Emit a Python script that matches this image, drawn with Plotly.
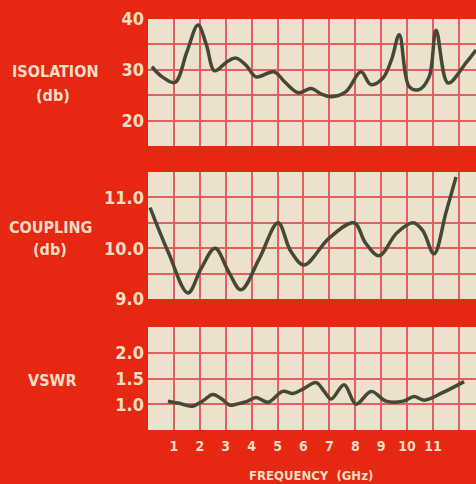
import plotly.graph_objects as go

# ---- data ----
iso_f = [0.15, 0.55, 1.04, 1.5, 1.93, 2.25, 2.57, 3.05, 3.4, 3.8, 4.17, 4.86, 5.3, 5.8, 6.3, 6.7, 7.07, 7.64, 8.22, 8.6, 9.07, 9.4, 9.7, 10.08, 10.46, 10.85, 11.12, 11.58, 12.28, 12.66]
iso_v = [30.6, 28.6, 27.5, 33.5, 38.8, 35.0, 29.8, 31.6, 32.3, 30.8, 28.6, 29.6, 27.5, 25.5, 26.3, 25.2, 24.7, 25.7, 29.6, 27.1, 28.4, 32.0, 36.9, 26.7, 26.1, 28.6, 37.8, 27.4, 31.4, 33.9]

cpl_f = [0.08, 0.8, 1.54, 2.05, 2.59, 3.1, 3.59, 4.3, 5.02, 5.5, 6.02, 6.99, 7.95, 8.4, 8.92, 9.6, 10.23, 10.6, 11.04, 11.5, 11.89]
cpl_v = [10.8, 9.9, 9.12, 9.6, 10.0, 9.55, 9.18, 9.8, 10.5, 9.95, 9.67, 10.2, 10.5, 10.1, 9.85, 10.3, 10.5, 10.35, 9.89, 10.7, 11.4]

vswr_f = [0.77, 1.2, 1.7, 2.1, 2.5, 2.85, 3.17, 3.4, 3.8, 4.17, 4.63, 5.2, 5.6, 6.0, 6.49, 6.8, 7.07, 7.57, 8.03, 8.61, 9.19, 9.85, 10.27, 10.66, 11.39, 12.2]
vswr_v = [1.06, 1.02, 0.96, 1.06, 1.19, 1.1, 0.98, 1.0, 1.05, 1.13, 1.04, 1.25, 1.21, 1.3, 1.42, 1.25, 1.1, 1.38, 1.0, 1.25, 1.06, 1.06, 1.15, 1.08, 1.23, 1.44]

x_tickvals = list(range(0, 13))
x_ticktext = [""] + [str(i) for i in range(1, 12)] + [""]

iso_tickvals = [15, 20, 25, 30, 35, 40]
iso_ticktext = ["", "20", "", "30", "", "40"]
cpl_tickvals = [9.0, 9.5, 10.0, 10.5, 11.0, 11.5]
cpl_ticktext = ["9.0", "", "10.0", "", "11.0", ""]
vswr_tickvals = [0.5, 1.0, 1.5, 2.0, 2.5]
vswr_ticktext = ["", "1.0", "1.5", "2.0", ""]

# ---- style ----
BG = "rgb(230,40,18)"
PANEL = "rgb(236,225,205)"
GRID = "rgb(226,96,96)"
TXT = "rgb(246,222,196)"
LINE = "rgb(68,72,54)"
FONT = "DejaVu Sans Condensed, Liberation Sans Narrow, Arial Narrow, sans-serif"

fig = go.Figure()
for i, (f, v) in enumerate([(iso_f, iso_v), (cpl_f, cpl_v), (vswr_f, vswr_v)]):
    sfx = "" if i == 0 else str(i + 1)
    fig.add_trace(go.Scatter(x=f, y=v, mode="lines", line=dict(color=LINE, width=3.5, shape="spline", smoothing=1.0),
                             xaxis="x" + sfx, yaxis="y" + sfx, showlegend=False, hoverinfo="skip"))

W, H = 476, 484
def dom(top, bot):
    return [1 - bot / H, 1 - top / H]

xcommon = dict(range=[0, 12.66], tickvals=x_tickvals, showgrid=True, gridcolor=GRID, gridwidth=2,
               zeroline=False, showline=False, domain=[148 / W, 1.0], fixedrange=True, automargin=False)
ycommon = dict(showgrid=True, gridcolor=GRID, gridwidth=2, zeroline=False, showline=False, automargin=False,
               tickfont=dict(family=FONT, size=18, color=TXT, weight="bold"), ticklabelstandoff=3, fixedrange=True)

fig.update_layout(
    width=W, height=H, margin=dict(l=0, r=0, t=0, b=0, pad=0, autoexpand=False),
    paper_bgcolor=BG, plot_bgcolor=PANEL,
    xaxis=dict(**xcommon, anchor="y", showticklabels=False),
    xaxis2=dict(**xcommon, anchor="y2", showticklabels=False),
    xaxis3=dict(**xcommon, anchor="y3", showticklabels=True, ticktext=x_ticktext,
                tickfont=dict(family=FONT, size=14, color=TXT, weight="bold"), ticklabelstandoff=6),
    yaxis=dict(**ycommon, anchor="x", domain=dom(19, 146), range=[15, 40], tickvals=iso_tickvals, ticktext=iso_ticktext),
    yaxis2=dict(**ycommon, anchor="x2", domain=dom(172, 299), range=[9.0, 11.5], tickvals=cpl_tickvals, ticktext=cpl_ticktext),
    yaxis3=dict(**ycommon, anchor="x3", domain=dom(327, 430), range=[0.5, 2.5], tickvals=vswr_tickvals, ticktext=vswr_ticktext),
)

def label(text, xpx, ypx, size=16):
    fig.add_annotation(text=text, x=xpx / W, y=1 - ypx / H, xref="paper", yref="paper", showarrow=False,
                       font=dict(family=FONT, size=size, color=TXT, weight="bold"), xanchor="center", yanchor="middle")

label("ISOLATION", 55, 72)
label("(db)", 53, 95)
label("COUPLING", 50, 227)
label("(db)", 50, 249)
label("VSWR", 52, 380)
label("FREQUENCY  (GHz)", 311, 475, size=13)

fig.write_html("out.html", config={"displayModeBar": False, "staticPlot": True},
               post_script="document.body.style.margin='0';document.documentElement.style.overflow='hidden';")
